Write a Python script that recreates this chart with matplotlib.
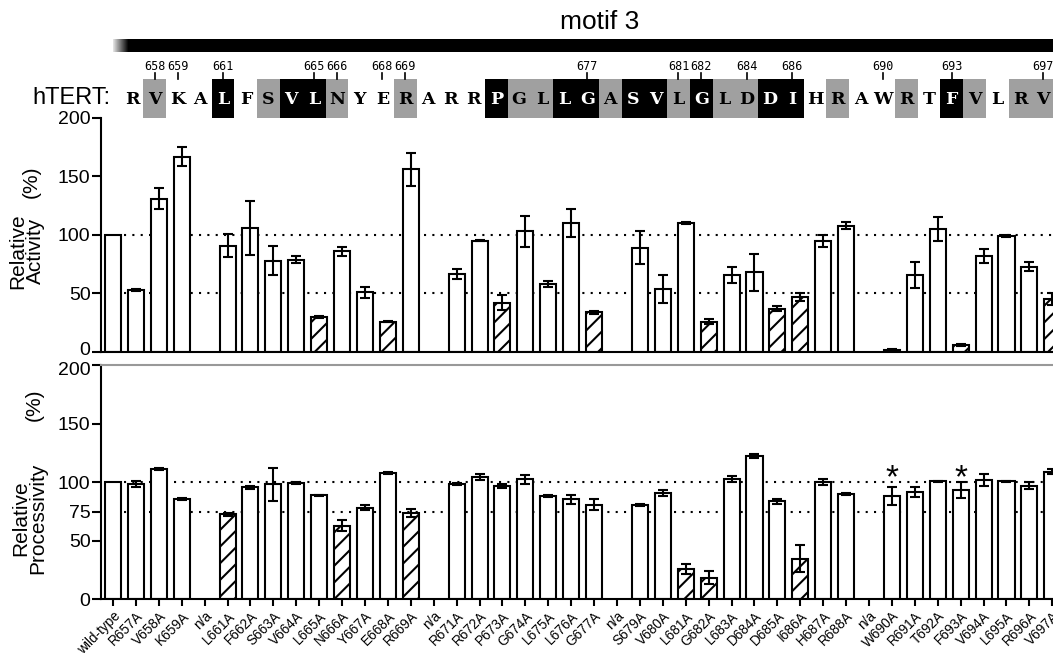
import numpy as np
import matplotlib.pyplot as plt
import matplotlib.transforms as mtransforms
from matplotlib.patches import Rectangle

plt.rcParams['font.family'] = ['Liberation Sans', 'DejaVu Sans']
plt.rcParams['hatch.linewidth'] = 1.5

nan = np.nan

# mutants (x axis), n/a = residue not tested
labels = ['wild-type', 'R657A', 'V658A', 'K659A', 'n/a', 'L661A', 'F662A', 'S663A',
          'V664A', 'L665A', 'N666A', 'Y667A', 'E668A', 'R669A', 'n/a', 'R671A',
          'R672A', 'P673A', 'G674A', 'L675A', 'L676A', 'G677A', 'n/a', 'S679A',
          'V680A', 'L681A', 'G682A', 'L683A', 'D684A', 'D685A', 'I686A', 'H687A',
          'R688A', 'n/a', 'W690A', 'R691A', 'T692A', 'F693A', 'V694A', 'L695A',
          'R696A', 'V697A']

activity = [100, 53, 131, 167, nan, 91, 106, 78, 79, 30, 86, 51, 26, 156, nan,
            67, 95, 42, 103, 58, 110, 34, nan, 89, 54, 110, 26, 66, 68, 37, 47,
            95, 108, nan, 2, 66, 105, 6, 82, 99, 73, 45]
activity_err = [nan, 1, 9, 8, nan, 10, 23, 12.5, 3.3, 1, 3.7, 4.5, 0.5, 14, nan,
                4.3, 0.5, 6.3, 13, 2.8, 12, 1.3, nan, 14, 12, 0.8, 2.4, 7, 15.5,
                2, 3, 5, 3, nan, 0.5, 11, 10.5, 0.5, 5.7, 0.8, 3.7, 5]
activity_hatched = ['L665A', 'E668A', 'P673A', 'G677A', 'G682A', 'D685A',
                    'I686A', 'F693A', 'V697A']

processivity = [100, 98.5, 111, 86, nan, 72.6, 95.7, 98.3, 99.4, 89, 63, 78.3,
                107.7, 74, nan, 98.5, 104.8, 97, 102.6, 88, 85.5, 81, nan, 80.6,
                91, 26, 18.5, 102.8, 122.5, 83.8, 34.7, 100.3, 90, nan, 88.3,
                91.4, 100.8, 93.4, 102, 100.8, 97.1, 109]
processivity_err = [nan, 2.6, 0.8, 1, nan, 1, 1.5, 14.3, 0.5, 0.5, 4.7, 2, 0.8,
                    3.4, nan, 0.8, 2.6, 1.5, 4, 0.8, 4, 4.3, nan, 0.8, 2.6, 4,
                    5.7, 2.8, 2, 2.3, 11.4, 2.8, 1, nan, 8, 4.3, 0.5, 6.8, 5.4,
                    0.5, 3, 2]
processivity_hatched = ['L661A', 'N666A', 'R669A', 'L681A', 'G682A', 'I686A']
starred = ['W690A', 'F693A']

# hTERT sequence 657-697 and conservation shading
seq_start = 657
sequence = 'RVKALFSVLNYERARRPGLLGASVLGLDDIHRAWRTFVLRV'
shading = 'ngnnbngbbgnngnnnbggbbgbbgbggbbngnngnbgngg'
numbered = [658, 659, 661, 665, 666, 668, 669, 677, 681, 682, 684, 686, 690, 693, 697]

W, H = 1053, 654
fig = plt.figure(figsize=(W / 100, H / 100), dpi=100)
left = 101 / W
x = np.arange(len(labels))


def panel(ax, vals, errs, hatched, refs, ticks):
    for r in refs:
        ax.hlines(r, 0.5, len(labels), colors='k', lw=1.5,
                  linestyles=(0, (1, 3)), zorder=1)
    for i, lab in enumerate(labels):
        if np.isnan(vals[i]):
            continue
        ax.bar(i, vals[i], width=0.7, color='white', edgecolor='k', lw=1.5,
               hatch='//' if lab in hatched else None, zorder=2)
    ax.errorbar(x, vals, yerr=errs, fmt='none', ecolor='k', elinewidth=1.5,
                capsize=3.5, capthick=1.5, zorder=3)
    ax.set_xlim(-0.524, 41.03)
    ax.set_ylim(0, 200)
    ax.set_yticks(ticks)
    ax.tick_params(axis='y', length=6.5, width=1.5, labelsize=14, pad=1)
    for s in ['left', 'bottom']:
        ax.spines[s].set_linewidth(1.5)
    ax.spines['right'].set_visible(False)


ax1 = fig.add_axes([left, 1 - 352 / H, 1 - left, 234 / H])
panel(ax1, activity, activity_err, activity_hatched, [100, 50], [0, 50, 100, 150, 200])
ax1.spines['top'].set_visible(False)
ax1.set_xticks([])

ax2 = fig.add_axes([left, 1 - 599.3 / H, 1 - left, 234 / H])
panel(ax2, processivity, processivity_err, processivity_hatched, [100, 75],
      [0, 50, 75, 100, 150, 200])
ax2.spines['top'].set_color('#999999')
ax2.spines['top'].set_linewidth(1.5)
ax2.set_xticks(x)
ax2.set_xticklabels(labels, rotation=45, ha='right', va='top',
                    rotation_mode='anchor', fontsize=9.8)
ax2.tick_params(axis='x', length=5, width=1.5, pad=2)
for lab in starred:
    ax2.text(labels.index(lab), 96, '*', ha='center', va='baseline', fontsize=24)

# nudge the two labels that meet between the panels ("0" above, "200" below)
t0 = ax1.yaxis.get_major_ticks()[0].label1
t0.set_transform(t0.get_transform() + mtransforms.ScaledTranslation(0, 3 / 100, fig.dpi_scale_trans))
t2 = ax2.yaxis.get_major_ticks()[-1].label1
t2.set_transform(t2.get_transform() + mtransforms.ScaledTranslation(0, -3 / 100, fig.dpi_scale_trans))

fig.text(27 / W, 1 - 251 / H, 'Relative\nActivity', rotation=90, ha='center',
         va='center', fontsize=15, linespacing=0.9)
fig.text(31 / W, 1 - 182 / H, '(%)', rotation=90, ha='center', va='center', fontsize=15)
fig.text(29 / W, 1 - 518 / H, 'Relative\nProcessivity', rotation=90, ha='center',
         va='center', fontsize=15, linespacing=0.9)
fig.text(34 / W, 1 - 405 / H, '(%)', rotation=90, ha='center', va='center', fontsize=15)

# motif bar with fading left end
axb = fig.add_axes([113 / W, 1 - 52 / H, 940 / W, 13 / H])
grad = np.zeros(940)
grad[:15] = np.linspace(0.88, 0.05, 15)
axb.imshow(grad[None, :], cmap='gray', vmin=0, vmax=1, aspect='auto')
axb.axis('off')
fig.text(600 / W, 1 - 22 / H, 'motif 3', ha='center', va='center', fontsize=19)

# sequence row
axs = fig.add_axes([left, 1 - 120 / H, 1 - left, 65 / H])
axs.set_xlim(655.64, 697.45)
axs.set_ylim(120, 55)
axs.axis('off')
for k, (aa, sh) in enumerate(zip(sequence, shading)):
    n = seq_start + k
    fc = {'g': '#a0a0a0', 'b': 'black'}.get(sh)
    if fc:
        axs.add_patch(Rectangle((n - 0.5, 79), 1, 39, facecolor=fc, edgecolor='none'))
    axs.text(n, 99, aa, ha='center', va='center', fontsize=12.5, fontweight='bold',
             family='DejaVu Serif', color='white' if sh == 'b' else 'black')
for n in numbered:
    axs.plot([n, n], [73, 79], color='k', lw=1.2)
    axs.text(n, 66, str(n), ha='center', va='center', fontsize=8.5,
             family='DejaVu Sans Mono')
fig.text(110 / W, 1 - 98 / H, 'hTERT:', ha='right', va='center', fontsize=17)

plt.savefig('out.png', dpi=100)
